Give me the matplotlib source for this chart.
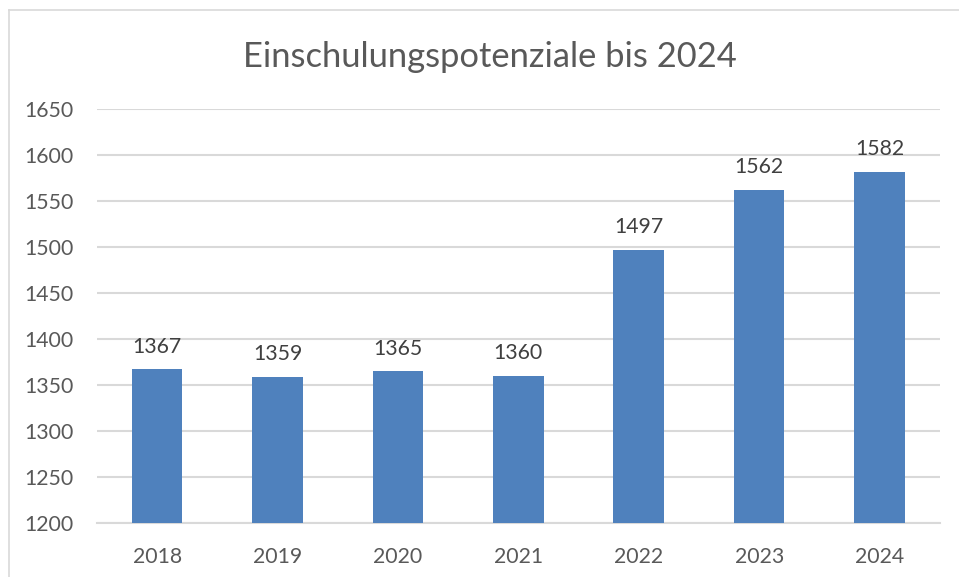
import matplotlib.pyplot as plt
from matplotlib.lines import Line2D

plt.rcParams['font.family'] = ['Lato', 'DejaVu Sans']

years = ['2018', '2019', '2020', '2021', '2022', '2023', '2024']
values = [1367, 1359, 1365, 1360, 1497, 1562, 1582]
yticks = [1200, 1250, 1300, 1350, 1400, 1450, 1500, 1550, 1600, 1650]

bar_color = '#4F81BD'
grid_color = '#D9D9D9'
text_color = '#595959'

fig = plt.figure(figsize=(9.59, 5.77), dpi=100)
ax = fig.add_axes([0.101, 0.0936, 0.879, 0.7175])

x = list(range(len(years)))
ax.bar(x, values, width=0.42, color=bar_color, zorder=3)

for xi, v in zip(x, values):
    ax.annotate(str(v), (xi, v), xytext=(0, 9), textcoords='offset points',
                ha='center', va='bottom', fontsize=15.3, color='#404040')

ax.set_ylim(1200, 1650)
ax.set_xlim(-0.5, len(years) - 0.5)
ax.set_yticks(yticks)
ax.set_xticks(x)
ax.set_xticklabels(years)
ax.yaxis.grid(True, color=grid_color, linewidth=1.5, zorder=0)
ax.tick_params(axis='both', length=0, labelsize=15.3, labelcolor=text_color)
ax.tick_params(axis='y', pad=17)
ax.tick_params(axis='x', pad=17)
for s in ['top', 'right', 'left']:
    ax.spines[s].set_visible(False)
ax.spines['bottom'].set_color(grid_color)
ax.spines['bottom'].set_linewidth(1.5)

fig.text(0.511, 1 - 57 / 577, 'Einschulungspotenziale bis 2024', ha='center', va='center',
         fontsize=24.8, color=text_color)

# Excel-style outer frame (left and top edges visible)
fig.add_artist(Line2D([9 / 959, 9 / 959], [0, 1 - 10 / 577], color='#D9D9D9', linewidth=1.2))
fig.add_artist(Line2D([9 / 959, 1], [1 - 10 / 577, 1 - 10 / 577], color='#D9D9D9', linewidth=1.2))

fig.savefig('out.png', dpi=100)
